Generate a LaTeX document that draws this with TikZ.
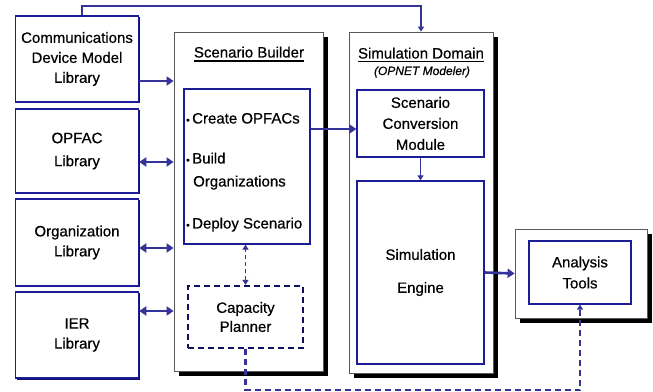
\documentclass[tikz,border=0pt]{standalone}
\usepackage{fontspec}
\setmainfont{Liberation Sans}[FakeBold=0.5]
\usetikzlibrary{arrows.meta,shadows}
\definecolor{linkblue}{RGB}{51,51,153}
\definecolor{boxblue}{RGB}{28,28,150}
\definecolor{navyshade}{RGB}{15,15,100}
\tikzset{
    lib/.style ={
        draw=boxblue,
        line width=1.5pt,
        fill=white,
        drop shadow={shadow xshift=1.5pt,shadow yshift=-1.5pt,fill=navyshade,opacity=1},
        minimum width=123pt,
        align=center,
        font=\fontsize{15}{20}\selectfont
    },
    panel/.style ={
        draw=gray!70!black,
        line width=0.8pt,
        fill=white,
        drop shadow={shadow xshift=5pt,shadow yshift=-5pt,fill=black,opacity=1}
    },
    inner/.style ={
        draw=boxblue,
        line width=1.3pt,
        align=center,
        font=\fontsize{15}{21}\selectfont
    },
    plan/.style ={
        draw=navyshade,
        line width=2.2pt,
        dash pattern=on 6pt off 4pt,
        align=center,
        font=\fontsize{15}{19}\selectfont
    },
    title/.style ={inner sep=0pt, font=\fontsize{15}{18}\selectfont, anchor=base},
    item/.style ={inner sep=0pt, font=\fontsize{15}{18}\selectfont, anchor=base west},
    flow/.style ={draw=linkblue, line width=2.6pt, -{Triangle[length=7pt,width=9pt]}},
    both/.style ={draw=linkblue, line width=2.6pt, {Triangle[length=7pt,width=9pt]}-{Triangle[length=7pt,width=9pt]}},
    thinflow/.style ={draw=linkblue, line width=1.6pt, -{Triangle[length=5pt,width=6pt]}},
    dflow/.style ={draw=linkblue, line width=2.2pt, dash pattern=on 6pt off 4pt, -{Triangle[length=5pt,width=6pt]}},
    dboth/.style ={draw=linkblue, line width=1.5pt, dash pattern=on 4pt off 3pt, {Triangle[length=5pt,width=6pt]}-{Triangle[length=5pt,width=6pt]}}
}

\begin{document}
\begin{tikzpicture}[x=1pt,y=1pt]
        \useasboundingbox (0,0) rectangle (653,391);
        % libraries
        \node[lib, minimum height=86pt] (comm) at(77,332) {Communications\\Device Model\\Library};
        \node[lib, minimum height=84pt, font=\fontsize{15}{23}\selectfont] (opfac) at(77,240) {OPFAC\\Library};
        \node[lib, minimum height=87pt] (org) at(77,148.5) {Organization\\Library};
        \node[lib, minimum height=86pt] (ier) at(77,56) {IER\\Library};
        % scenario builder
        \node[panel, minimum width=149pt, minimum height=339pt] (sb) at(248.5,189.5) {};
        \node[title] (sbtitle) at(249,333.5) {Scenario Builder};
        \draw[line width=1.4pt] ([yshift=-3.5pt]sbtitle.base west) -- ([yshift=-3.5pt]sbtitle.base east);
        \node[inner, minimum width=126pt, minimum height=155pt] (sbin) at(247,224.5) {};
        \node[item] (create) at(186,267.5) {{\fontsize{10}{10}\selectfont\textbullet}\,Create OPFACs};
        \node[item] (build) at(186,227.5) {{\fontsize{10}{10}\selectfont\textbullet}\,Build};
        \node[item] (orgs) at(193,204.5) {Organizations};
        \node[item] (deploy) at(186,162.5) {{\fontsize{10}{10}\selectfont\textbullet}\,Deploy Scenario};
        \node[plan, minimum width=115pt, minimum height=62pt] (cap) at(245.5,74) {Capacity\\Planner};
        % simulation domain
        \node[panel, minimum width=144pt, minimum height=341pt] (sd) at(421,188.5) {};
        \node[title] (sdtitle) at(421,332.5) {Simulation Domain};
        \draw[line width=1.4pt] ([yshift=-3pt]sdtitle.base west) -- ([yshift=-3pt]sdtitle.base east);
        \node[title, font=\fontsize{12}{14}\selectfont\itshape] (opnet) at(422,316) {(OPNET Modeler)};
        \node[inner, minimum width=127pt, minimum height=67pt] (scm) at(420.5,267.5) {Scenario\\Conversion\\Module};
        \node[inner, minimum width=127pt, minimum height=183pt] (se) at(420.5,118.5) {Simulation\\[12pt]Engine};
        % analysis
        \node[panel, minimum width=132pt, minimum height=89pt] (at) at(581,117.5) {};
        \node[inner, minimum width=102pt, minimum height=63pt] (atin) at(580,118.5) {Analysis\\Tools};
        % connectors
        \draw[thinflow] ([xshift=5pt]comm.north) -- ++(0,9) -| (sd.north);
        \draw[flow] ([yshift=-22pt]comm.east) -- ([yshift=-22pt]comm.east -| sb.west);
        \draw[both] ([yshift=-11pt]opfac.east) -- ([yshift=-11pt]opfac.east -| sb.west);
        \draw[both] ([yshift=-5.5pt]org.east) -- ([yshift=-5.5pt]org.east -| sb.west);
        \draw[both] ([yshift=24pt]ier.east) -- ([yshift=24pt]ier.east -| sb.west);
        \draw[flow] ([yshift=-5.5pt]scm.west -| sbin.east) -- ([yshift=-5.5pt]scm.west);
        \draw[thinflow] (scm.south) -- (se.north);
        \draw[flow] (se.east) -- (at.west);
        \draw[dboth] (cap.north) -- (cap.north |- sbin.south);
        \draw[dflow] (cap.south) -- ++(0,-41) -| (atin.south);
    \end{tikzpicture}
\end{document}
